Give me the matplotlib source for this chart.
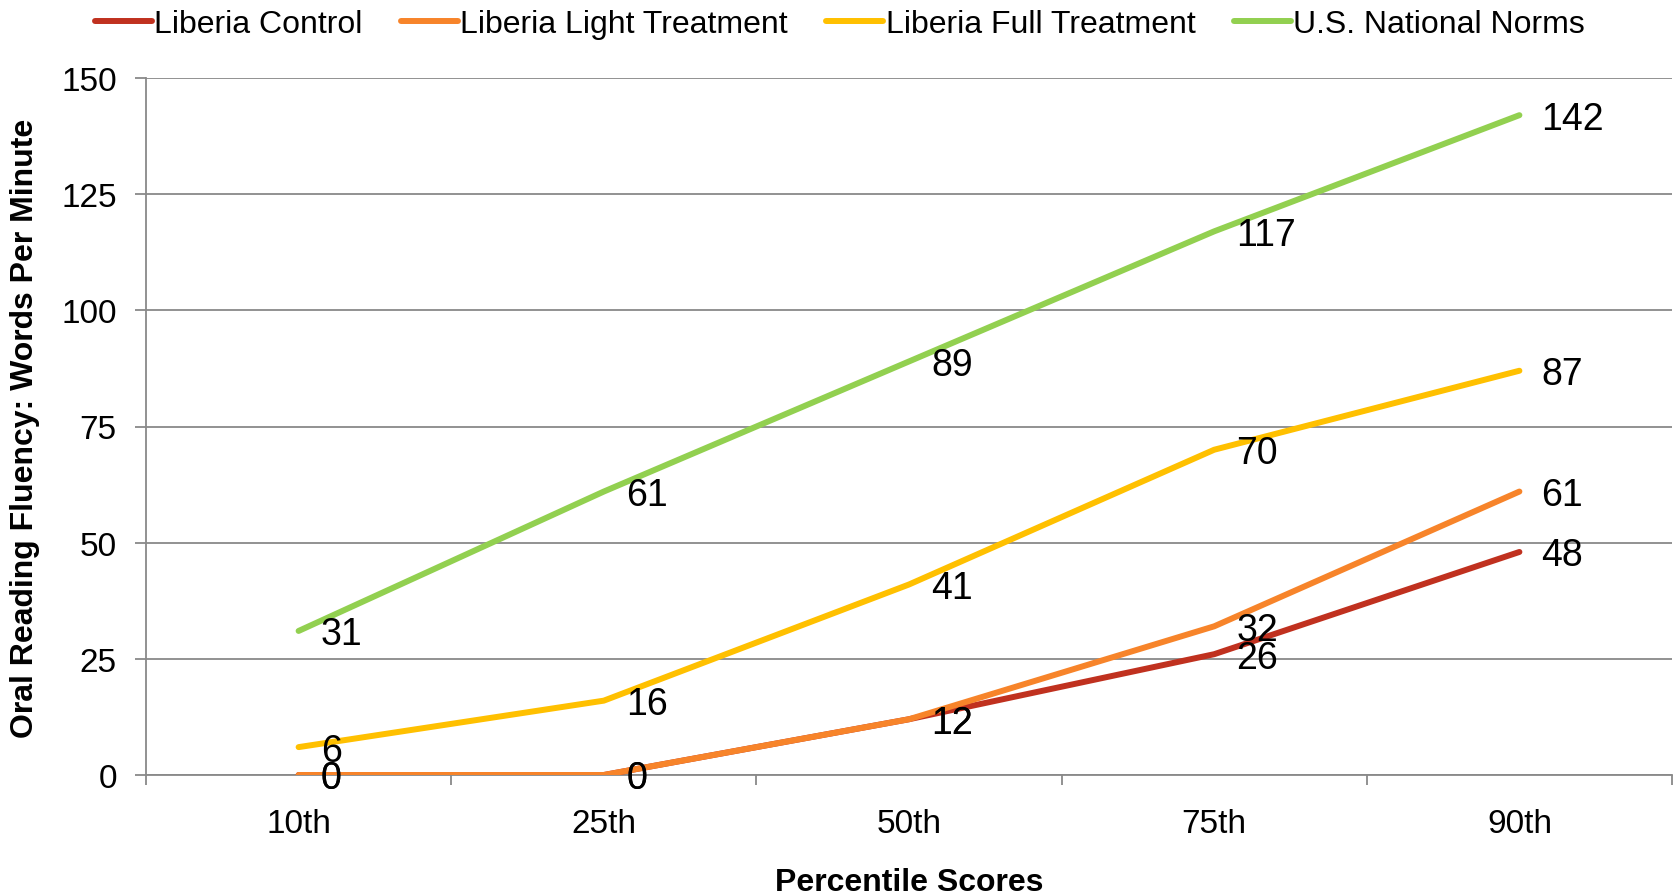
import matplotlib
matplotlib.use("Agg")
import matplotlib.pyplot as plt

# ------------------------------------------------------------
# Data: oral reading fluency by percentile
# ------------------------------------------------------------
percentiles = ["10th", "25th", "50th", "75th", "90th"]

liberia_control = [0, 0, 12, 26, 48]
liberia_light = [0, 0, 12, 32, 61]
liberia_full = [6, 16, 41, 70, 87]
us_norms = [31, 61, 89, 117, 142]

series_names = ["Liberia Control", "Liberia Light Treatment",
                "Liberia Full Treatment", "U.S. National Norms"]
series_values = [liberia_control, liberia_light, liberia_full, us_norms]
series_colors = ["#C0311F", "#F7842A", "#FFC000", "#92D050"]

y_ticks = [0, 25, 50, 75, 100, 125, 150]

plt.rcParams["font.family"] = ["Liberation Sans", "DejaVu Sans"]

W, H = 1677, 895
fig = plt.figure(figsize=(W / 100, H / 100), dpi=100)
ax = fig.add_axes([146 / W, 1 - 776 / H, (1672 - 146) / W, (776 - 79) / H])

grid_color = "#898989"
x = list(range(len(percentiles)))

for name, vals, col in zip(series_names, series_values, series_colors):
    ax.plot(x, vals, color=col, lw=4.3, label=name,
            solid_capstyle="round", solid_joinstyle="round", zorder=3)

# value labels to the right of each point
for vals in series_values:
    for xi, v in zip(x, vals):
        ax.annotate(str(v), (xi, v), xytext=(16, -2.5), textcoords="offset points",
                    ha="left", va="center", fontsize=27, color="black", zorder=4)

ax.set_xlim(-0.5, len(percentiles) - 0.5)
ax.set_ylim(0, 150)
ax.set_yticks(y_ticks)
ax.set_yticklabels([str(t) for t in y_ticks], fontsize=24)
ax.yaxis.grid(True, color=grid_color, lw=1.3)
ax.set_axisbelow(True)

ax.set_xticks(x)
ax.set_xticklabels(percentiles, fontsize=24)
ax.set_xticks([i - 0.5 for i in range(len(percentiles) + 1)], minor=True)
ax.tick_params(axis="x", which="major", length=0, pad=24)
ax.tick_params(axis="x", which="minor", length=7.5, width=1.3, color=grid_color,
               direction="out")
ax.tick_params(axis="y", length=8, width=1.3, color=grid_color, pad=13)

for side in ["top", "right"]:
    ax.spines[side].set_visible(False)
for side in ["left", "bottom"]:
    ax.spines[side].set_color(grid_color)
    ax.spines[side].set_linewidth(1.3)

fig.text(25 / W, 1 - 428 / H, "Oral Reading Fluency: Words Per Minute",
         rotation=90, ha="center", va="center", fontsize=23, fontweight="bold")
fig.text(909 / W, 1 - 883 / H, "Percentile Scores",
         ha="center", va="center", fontsize=23, fontweight="bold")

fig.legend(loc="center", bbox_to_anchor=(840 / W, 1 - 25 / H), ncol=4,
           frameon=False, fontsize=23, handlelength=1.78, handletextpad=0.08,
           columnspacing=1.2, borderpad=0)

fig.savefig("out.png", dpi=100)
plt.close(fig)
